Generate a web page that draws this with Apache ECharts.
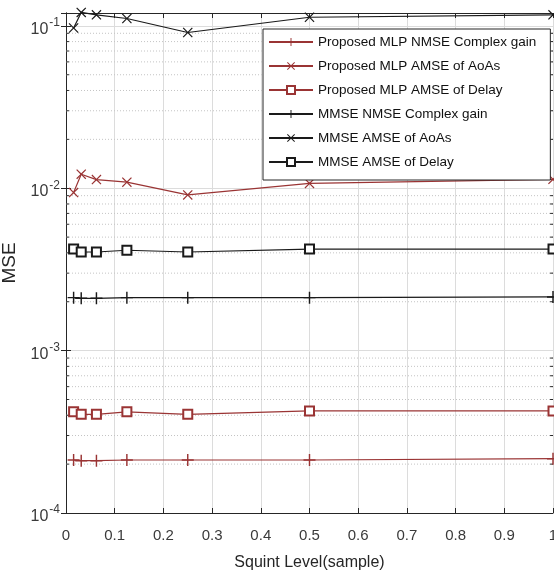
<!DOCTYPE html>
<html>
<head>
<meta charset="utf-8">
<script src="https://cdn.jsdelivr.net/npm/echarts@6/dist/echarts.min.js"></script>
<style>
  html, body { margin: 0; padding: 0; background: #fff; }
  #chart { width: 554px; height: 575px; }
</style>
</head>
<body>
<div id="chart"></div>
<script>
// squint level (samples)
const squint = [1 / 64, 1 / 32, 1 / 16, 1 / 8, 1 / 4, 1 / 2, 1];

const mlpGain = [2.12e-4, 2.1e-4, 2.1e-4, 2.12e-4, 2.12e-4, 2.12e-4, 2.16e-4];
const mlpAoa = [0.0094, 0.0122, 0.0113, 0.0109, 0.0091, 0.0107, 0.01135];
const mlpDelay = [4.2e-4, 4.05e-4, 4.05e-4, 4.2e-4, 4.05e-4, 4.25e-4, 4.25e-4];
const mmseGain = [2.12e-3, 2.1e-3, 2.1e-3, 2.12e-3, 2.12e-3, 2.12e-3, 2.14e-3];
const mmseAoa = [0.097, 0.121, 0.117, 0.111, 0.091, 0.113, 0.117];
const mmseDelay = [4.22e-3, 4.05e-3, 4.05e-3, 4.15e-3, 4.05e-3, 4.22e-3, 4.22e-3];

const seriesNames = [
  "Proposed MLP NMSE Complex gain",
  "Proposed MLP AMSE of AoAs",
  "Proposed MLP AMSE of Delay",
  "MMSE NMSE Complex gain",
  "MMSE AMSE of AoAs",
  "MMSE AMSE of Delay",
];

// dotted minor grid values (2..9 per decade)
const minorGrid = [];
[1e-4, 1e-3, 1e-2].forEach((d) => {
  for (let k = 2; k <= 9; k++) minorGrid.push(+(k * d).toPrecision(3));
});

const RED = "#9a3434";
const BLACK = "#1a1a1a";
const AXIS = "#262626";
const FONT = "Liberation Sans, Arial, sans-serif";
const PLUS = "path://M4.4,0H5.6V4.4H10V5.6H5.6V10H4.4V5.6H0V4.4H4.4Z";
const CROSS = "path://M0.85,0L5,4.15L9.15,0L10,0.85L5.85,5L10,9.15L9.15,10L5,5.85L0.85,10L0,9.15L4.15,5L0,0.85Z";

function pairs(ys) {
  return squint.map((x, i) => [x, ys[i]]);
}

function makeSeries(name, ys, color, symbol, size) {
  const isRect = symbol === "emptyRect";
  return {
    name: name,
    type: "line",
    data: pairs(ys),
    symbol: symbol,
    symbolSize: size,
    showAllSymbol: true,
    clip: false,
    lineStyle: { color: color, width: 1.2 },
    itemStyle: isRect
      ? { color: color, borderColor: color, borderWidth: 1.2 }
      : { color: color, borderWidth: 0 },
    emphasis: { disabled: true },
    z: 3,
  };
}

// one short/long horizontal helper line per minor value
function guideLines(xFrom, xTo, style) {
  return minorGrid.map((v) => ({
    type: "line",
    data: [[xFrom, v], [xTo, v]],
    symbol: "none",
    silent: true,
    lineStyle: style,
    emphasis: { disabled: true },
    z: 1,
  }));
}

function logLabel(v) {
  const e = Math.log10(v);
  if (Math.abs(e - Math.round(e)) > 1e-6) return "";
  return "{b|10}{s|" + Math.round(e) + "}";
}

const chart = echarts.init(document.getElementById("chart"));

const option = {
  animation: false,
  backgroundColor: "#fff",
  grid: { left: 66, right: 1, top: 13, bottom: 62, outerBoundsMode: "none", containLabel: false },
  legend: {
    data: seriesNames,
    orient: "vertical",
    left: 263,
    top: 29,
    itemWidth: 44,
    itemHeight: 10,
    itemGap: 8,
    padding: [5, 14, 10, 5],
    backgroundColor: "#fff",
    borderColor: AXIS,
    borderWidth: 1,
    selectedMode: false,
    textStyle: { fontFamily: FONT, fontSize: 13.5, lineHeight: 16, color: "#111" },
    z: 10,
  },
  xAxis: [
    {
      type: "value",
      min: 0,
      max: 1,
      interval: 0.1,
      name: "Squint Level(sample)",
      nameLocation: "middle",
      nameGap: 42,
      nameTextStyle: { fontFamily: FONT, fontSize: 16, color: "#262626" },
      axisLine: { lineStyle: { color: AXIS, width: 1 } },
      axisTick: { inside: true, length: 5, lineStyle: { color: AXIS } },
      axisLabel: {
        margin: 15,
        fontFamily: FONT,
        fontSize: 15,
        color: "#3a3a3a",
        formatter: (v) => (v === 0 || v === 1 ? String(v) : v.toFixed(1)),
      },
      splitLine: { show: true, lineStyle: { color: "#dcdcdc", width: 1 } },
    },
    {
      type: "value",
      position: "top",
      min: 0,
      max: 1,
      interval: 0.1,
      axisLine: { show: true, onZero: false, lineStyle: { color: AXIS, width: 1 } },
      axisTick: { show: true, inside: true, length: 5, lineStyle: { color: AXIS } },
      axisLabel: { show: false },
      splitLine: { show: false },
    },
  ],
  yAxis: [
    {
      type: "log",
      logBase: 10,
      min: 1e-4,
      max: 0.12,
      name: "MSE",
      nameLocation: "middle",
      nameGap: 41,
      nameTextStyle: { fontFamily: FONT, fontSize: 19, color: "#262626" },
      axisLine: { show: true, lineStyle: { color: AXIS, width: 1 } },
      axisTick: { show: true, inside: true, length: 5, lineStyle: { color: AXIS } },
      axisLabel: {
        margin: 6,
        color: "#3a3a3a",
        fontFamily: FONT,
        formatter: logLabel,
        rich: {
          b: { fontSize: 16, color: "#3a3a3a", padding: [7, 0, 0, 0] },
          s: { fontSize: 12, color: "#3a3a3a", padding: [0, 0, 6, 1] },
        },
      },
      splitLine: { show: true, lineStyle: { color: "#dcdcdc", width: 1 } },
    },
    {
      type: "log",
      logBase: 10,
      min: 1e-4,
      max: 0.12,
      position: "right",
      axisLine: { show: true, lineStyle: { color: AXIS, width: 1 } },
      axisTick: { show: true, inside: true, length: 5, lineStyle: { color: AXIS } },
      axisLabel: { show: false },
      splitLine: { show: false },
    },
  ],
  series: [].concat(
    guideLines(0, 1, { color: "#c4c4c4", type: [1, 2], width: 1 }),
    guideLines(0, 0.006, { color: AXIS, width: 1 }),
    guideLines(0.994, 1, { color: AXIS, width: 1 }),
    [
      makeSeries(seriesNames[0], mlpGain, RED, PLUS, 12),
      makeSeries(seriesNames[1], mlpAoa, RED, CROSS, 10),
      makeSeries(seriesNames[2], mlpDelay, RED, "emptyRect", 9),
      makeSeries(seriesNames[3], mmseGain, BLACK, PLUS, 12),
      makeSeries(seriesNames[4], mmseAoa, BLACK, CROSS, 10),
      makeSeries(seriesNames[5], mmseDelay, BLACK, "emptyRect", 9),
    ]
  ),
};

chart.setOption(option);
</script>
</body>
</html>
